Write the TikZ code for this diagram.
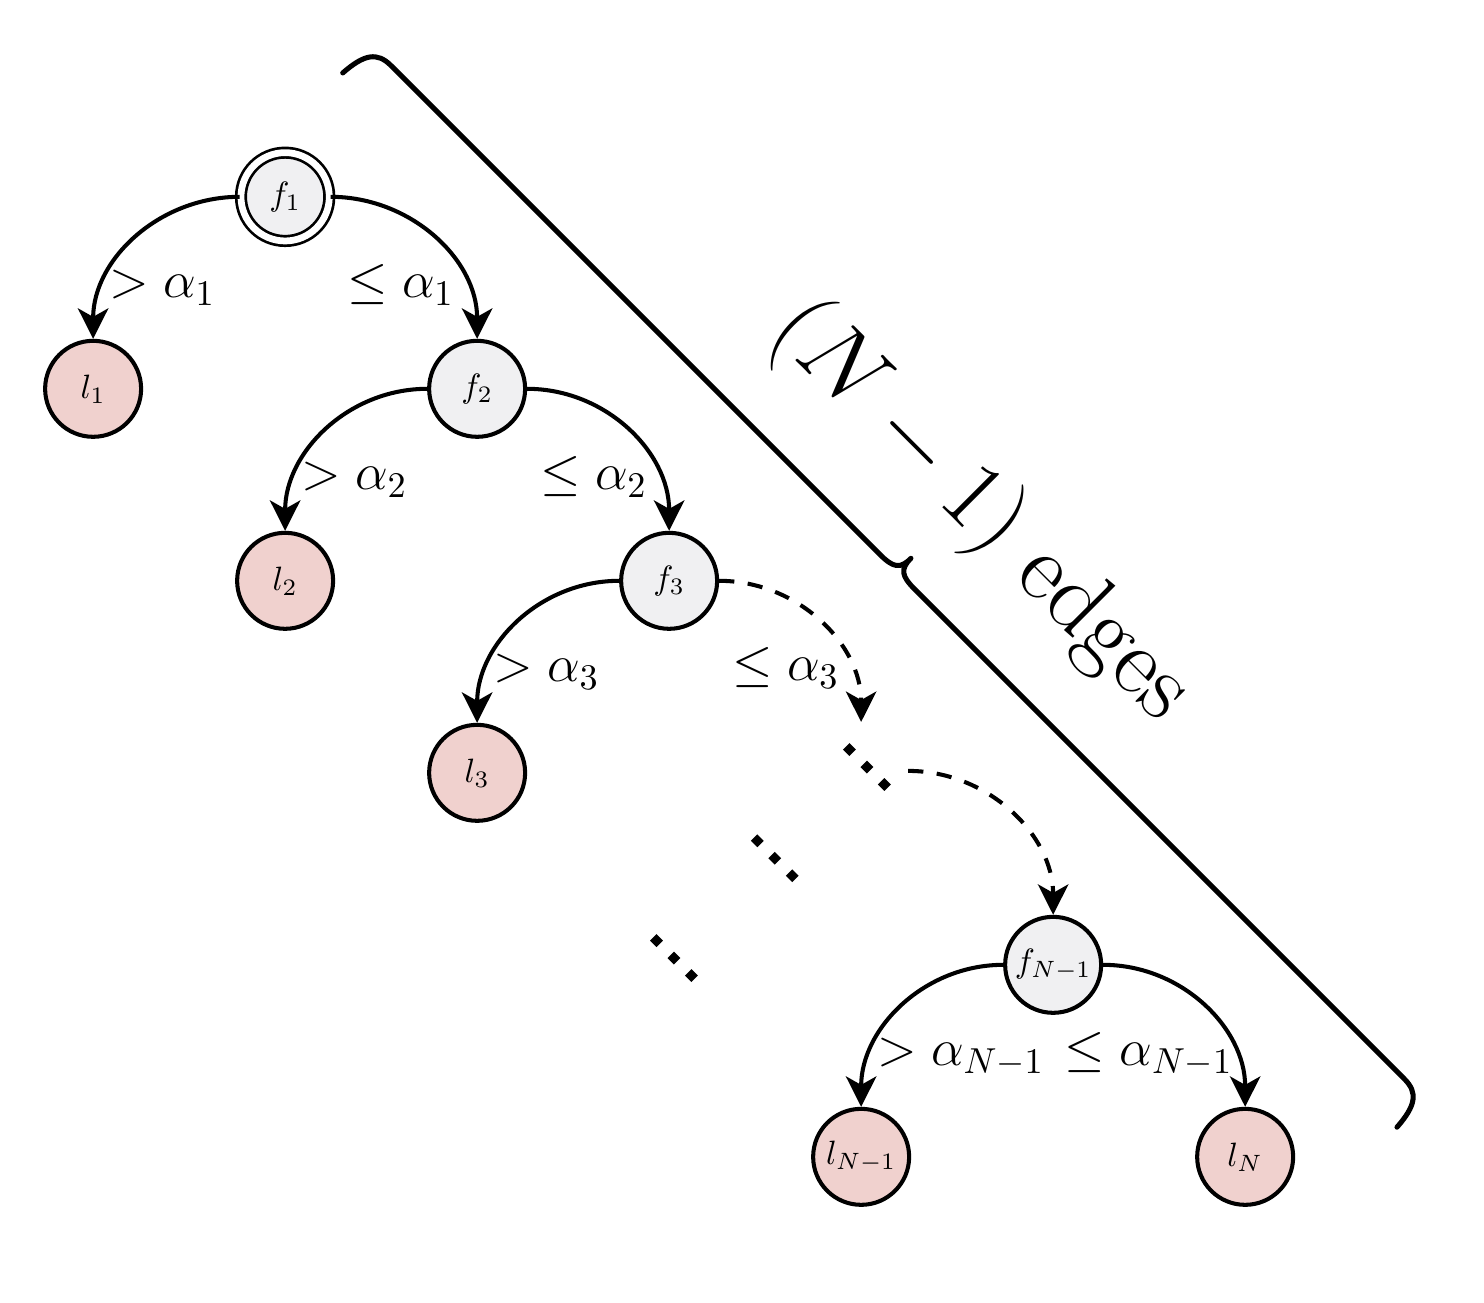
\documentclass[tikz,border=0pt]{standalone}
\usepackage{tikz}
\usetikzlibrary{arrows.meta, calc, shapes.geometric}

\definecolor{leafpink}{RGB}{240,209,206}
\definecolor{splitgray}{RGB}{240,240,242}

\begin{document}
\begin{tikzpicture}[
  every node/.style={align=center},
  split/.style={circle, draw, very thick, fill=splitgray, minimum size=1cm, inner sep=0pt},
  root/.style={split, thick, double, double distance=2pt, minimum size=0.92cm},
  leaf/.style={circle, draw, very thick, fill=leafpink, minimum size=1cm, inner sep=0pt},
  branch/.style={-{Stealth[length=9pt, width=9pt, inset=2.5pt]}, very thick},
  skip/.style={branch, dash pattern=on 4.5pt off 4pt},
  cond/.style={font=\Large, inner sep=0pt, scale=1.07},
  dot/.style={diamond, fill, inner sep=0pt, minimum size=0.14cm}
]
  \useasboundingbox (0,0) rectangle (15.458,-13.5625);

  \node[root] (f1) at (2.97,-2.05) {$f_1$};
  \node[leaf] (l1) at (0.97,-4.05) {$l_1$};
  \node[split] (f2) at (4.97,-4.05) {$f_2$};
  \node[leaf] (l2) at (2.97,-6.05) {$l_2$};
  \node[split] (f3) at (6.97,-6.05) {$f_3$};
  \node[leaf] (l3) at (4.97,-8.05) {$l_3$};
  \node[split] (fn) at (10.97,-10.05) {$f_{N-1}$};
  \node[leaf] (ln1) at (8.97,-12.05) {$l_{N-1}$};
  \node[leaf] (ln) at (12.97,-12.05) {$l_N$};

  % dots for the skipped levels
  \coordinate (dotsA) at (9.03,-7.99);
  \coordinate (dotsB) at (8.07,-8.94);
  \coordinate (dotsC) at (7.02,-9.98);
  \foreach \g in {dotsA,dotsB,dotsC}
    \foreach \k in {-1,0,1}
      \node[dot] (\g\k) at ($(\g)+(0.182*\k,-0.182*\k)$) {};
  \coordinate (dotsin) at ($(dotsA)+(-0.06,0.47)$);
  \coordinate (dotsout) at ($(dotsA)+(0.43,-0.04)$);

  \draw[branch] (f1.west) to[out=180, in=90] (l1.north);
  \draw[branch] (f1.east) to[out=0, in=90] (f2.north);
  \draw[branch] (f2.west) to[out=180, in=90] (l2.north);
  \draw[branch] (f2.east) to[out=0, in=90] (f3.north);
  \draw[branch] (f3.west) to[out=180, in=90] (l3.north);
  \draw[skip] (f3.east) to[out=0, in=90] (dotsin);
  \draw[skip] (dotsout) to[out=0, in=90] (fn.north);
  \draw[branch] (fn.west) to[out=180, in=90] (ln1.north);
  \draw[branch] (fn.east) to[out=0, in=90] (ln.north);

  \node[cond, anchor=base west] (gt1) at ($(l1.north)+(0.16,0.43)$) {$>\alpha_1$};
  \node[cond, anchor=base east] (le1) at ($(f2.north)+(-0.23,0.43)$) {$\leq\alpha_1$};
  \node[cond, anchor=base west] (gt2) at ($(l2.north)+(0.16,0.43)$) {$>\alpha_2$};
  \node[cond, anchor=base east] (le2) at ($(f3.north)+(-0.22,0.43)$) {$\leq\alpha_2$};
  \node[cond, anchor=base west] (gt3) at ($(l3.north)+(0.16,0.43)$) {$>\alpha_3$};
  \node[cond, anchor=base east] (le3) at ($(dotsin)+(-0.22,0.43)$) {$\leq\alpha_3$};
  \node[cond, anchor=base west] (gtn) at ($(ln1.north)+(0.16,0.43)$) {$>\alpha_{N-1}$};
  \node[cond, anchor=base east] (len) at ($(ln.north)+(-0.12,0.43)$) {$\leq\alpha_{N-1}$};

  % brace over the chain of splits
  \begin{scope}[shift={(3.57,-0.76)}, rotate=-45]
    \draw[line width=1.5pt, line cap=round, line join=round]
      (0,0) .. controls (0.02,0.3) and (0.1,0.41) .. (0.3,0.41)
      -- (7.5,0.41) .. controls (7.7,0.41) and (7.76,0.45) .. (7.76,0.61)
      .. controls (7.76,0.45) and (7.82,0.41) .. (8.02,0.41)
      -- (15.23,0.41) .. controls (15.43,0.41) and (15.51,0.3) .. (15.53,0);
    \node[rotate=-45, anchor=base, font=\Huge, scale=1.15] (edgecount) at (7.93,1.22) {$(N-1)$ edges};
  \end{scope}
\end{tikzpicture}
\end{document}
